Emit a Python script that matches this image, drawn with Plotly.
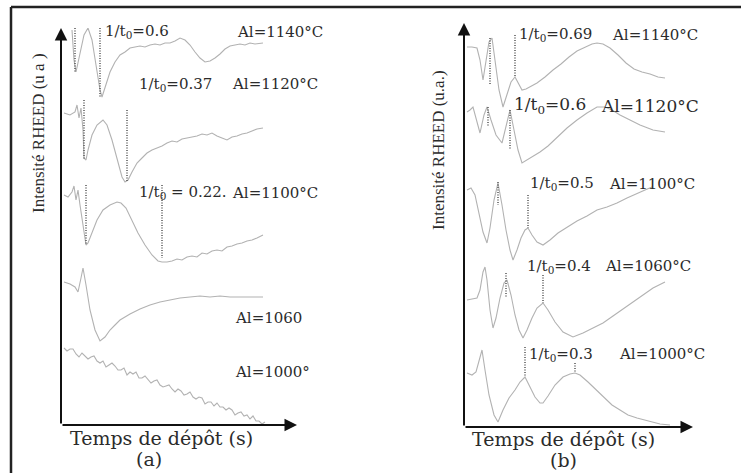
import plotly.graph_objects as go

W, H = 741, 473

# ---------------- Panel (a) : intensity (u.a.) vs deposition time (u.a.) ----------------
a1140_t = [11, 13, 15, 19, 23, 27, 31, 35, 39, 41, 44, 49, 54, 59, 64, 69, 74, 79, 84, 89, 94, 99,
           104, 109, 114, 119, 124, 129, 134, 139, 144, 149, 154, 159, 164, 169, 174, 179, 184, 189, 194, 202]
a1140_i = [395, 365, 353, 370, 390, 397, 385, 360, 335, 328, 337, 353, 363, 370, 373, 377, 378, 379, 378, 380, 381, 380,
           382, 382, 384, 387, 385, 380, 373, 367, 363, 364, 367, 371, 376, 379, 380, 381, 380, 382, 381, 382]

a1120_t = [3, 9, 14, 16, 18, 20, 22, 23, 25, 27, 31, 36, 42, 46, 51, 56, 61, 64, 67, 71, 76, 81, 86, 91, 96,
           101, 106, 111, 116, 121, 126, 131, 136, 141, 146, 151, 156, 161, 166, 171, 176, 181, 186, 191, 196, 202]
a1120_i = [312, 310, 313, 320, 307, 317, 295, 267, 265, 275, 290, 300, 305, 300, 285, 265, 248, 243, 245, 253, 262,
           267, 272, 275, 277, 279, 282, 284, 283, 286, 287, 288, 289, 291, 290, 292, 289, 287, 285, 288, 289, 291,
           292, 294, 296, 297]

a1100_t = [3, 7, 11, 13, 15, 17, 19, 22, 25, 27, 31, 36, 42, 49, 56, 60, 65, 71, 77, 84, 91, 97, 101, 106,
           111, 116, 121, 126, 131, 136, 141, 146, 151, 156, 161, 166, 171, 176, 181, 186, 191, 196, 202]
a1100_i = [230, 228, 233, 239, 225, 235, 220, 200, 180, 182, 193, 205, 215, 220, 223, 222, 217, 205, 192, 180,
           170, 164, 163, 163, 164, 166, 165, 168, 169, 168, 172, 171, 174, 175, 174, 178, 179, 181, 182, 184,
           185, 187, 190]

a1060_t = [3, 9, 14, 17, 20, 22, 25, 29, 34, 39, 44, 49, 54, 59, 69, 79, 89, 99, 109, 119, 129, 139, 149,
           159, 169, 184, 202]
a1060_i = [143, 141, 138, 133, 147, 157, 140, 115, 95, 84, 88, 95, 100, 105, 111, 116, 120, 123, 125, 127,
           128, 129, 128, 129, 128, 128, 128]

a1000_t = [3, 6, 9, 12, 15, 18, 21, 24, 27, 30, 33, 36, 39, 42, 45, 48, 51, 54, 57, 60, 63, 66, 69, 72,
           75, 78, 81, 84, 87, 90, 93, 96, 99, 102, 105, 108, 111, 114, 117, 120, 123, 126, 129, 132, 135,
           138, 141, 144, 147, 150, 153, 156, 159, 162, 165, 168, 171, 174, 177, 180, 183, 186, 189, 192,
           195, 198, 201, 204]
a1000_i = [77, 74, 76, 76, 71, 68, 72, 69, 66, 68, 69, 64, 62, 64, 58, 60, 62, 59, 55, 55, 57, 50, 53, 51,
           53, 47, 47, 49, 46, 42, 44, 45, 40, 38, 39, 40, 36, 33, 36, 34, 30, 31, 33, 28, 26, 28, 27, 21,
           23, 23, 19, 22, 18, 18, 15, 17, 15, 10, 12, 13, 9, 10, 6, 9, 4, 4, 1, 3]

# period markers (dotted verticals): time, upper and lower intensity
a_mark_t = [14, 39, 23, 66, 25, 101]
a_mark_hi = [397, 397, 325, 315, 240, 240]
a_mark_lo = [352, 328, 265, 243, 180, 167]

# ---------------- Panel (b) ----------------
b1140_t = [3, 8, 13, 16, 19, 22, 25, 28, 31, 35, 39, 43, 47, 51, 54, 58, 62, 66, 73, 81, 89, 97, 105, 113,
           121, 128, 133, 139, 146, 154, 162, 170, 178, 186, 194, 201]
b1140_i = [380, 380, 379, 367, 347, 367, 385, 389, 367, 337, 320, 332, 345, 350, 344, 337, 338, 340, 344, 350,
           357, 363, 370, 376, 380, 383, 384, 383, 379, 372, 364, 358, 355, 353, 350, 349]

b1120_t = [3, 6, 9, 12, 16, 20, 23, 27, 32, 38, 42, 46, 50, 54, 58, 63, 69, 76, 84, 93, 103, 113, 123, 133,
           141, 148, 156, 166, 176, 189, 201]
b1120_i = [315, 317, 320, 309, 294, 312, 320, 307, 292, 284, 302, 317, 297, 277, 264, 267, 271, 275, 281, 290,
           299, 307, 314, 320, 320, 317, 312, 307, 302, 297, 295]

b1100_t = [3, 7, 11, 15, 19, 23, 26, 30, 34, 38, 42, 46, 49, 53, 57, 61, 64, 68, 73, 79, 86, 94, 103, 113,
           123, 133, 143, 153, 163, 173, 181, 188]
b1100_i = [237, 239, 232, 215, 195, 184, 199, 227, 244, 222, 197, 177, 167, 177, 189, 197, 199, 192, 185, 182,
           187, 194, 200, 206, 211, 217, 220, 224, 229, 233, 237, 240]

b1060_t = [3, 8, 13, 16, 19, 21, 23, 26, 29, 32, 36, 40, 43, 47, 51, 55, 59, 63, 68, 73, 79, 84, 91, 99,
           109, 119, 129, 139, 149, 159, 169, 179, 189, 201]
b1060_i = [127, 128, 129, 137, 155, 160, 147, 117, 99, 109, 129, 144, 147, 132, 112, 97, 89, 97, 109, 119,
           124, 117, 105, 95, 90, 94, 99, 104, 111, 118, 125, 132, 139, 145]

b1000_t = [3, 8, 12, 15, 18, 21, 25, 30, 34, 39, 45, 51, 56, 61, 66, 71, 76, 79, 84, 91, 99, 106, 111, 116,
           124, 132, 139, 148, 156, 164, 173, 181, 186, 196, 206]
b1000_i = [54, 52, 55, 67, 77, 57, 32, 12, 5, 17, 29, 37, 45, 50, 40, 30, 24, 24, 31, 42, 50, 53, 54, 52,
           45, 37, 30, 22, 17, 12, 9, 7, 5, 3, 2]

b_mark_t = [26, 51, 24, 46, 34, 64, 42, 79, 61, 111]
b_mark_hi = [389, 392, 320, 317, 245, 232, 154, 152, 80, 64]
b_mark_lo = [342, 350, 300, 277, 222, 199, 130, 124, 50, 54]

# labels
a_freq = ["1/t<sub>0</sub>=0.6", "1/t<sub>0</sub>=0.37", "1/t<sub>0</sub> = 0.22."]
a_temp = ["Al=1140°C", "Al=1120°C", "Al=1100°C", "Al=1060", "Al=1000°"]
b_freq = ["1/t<sub>0</sub>=0.69", "1/t<sub>0</sub>=0.6", "1/t<sub>0</sub>=0.5",
          "1/t<sub>0</sub>=0.4", "1/t<sub>0</sub>=0.3"]
b_temp = ["Al=1140°C", "Al=1120°C", "Al=1100°C", "Al=1060°C", "Al=1000°C"]

CURVE = "#b2b2b2"
MARK = "#555555"
INK = "#2b2b2b"
SERIF = "DejaVu Serif"

fig = go.Figure()


def curve(t, i, xa, ya):
    fig.add_trace(go.Scatter(x=t, y=i, mode="lines", xaxis=xa, yaxis=ya,
                             line=dict(color=CURVE, width=1.1), hoverinfo="skip"))


def markers(t, hi, lo, xa, ya):
    xs, ys = [], []
    for tt, h, l in zip(t, hi, lo):
        xs += [tt, tt, None]
        ys += [h, l, None]
    fig.add_trace(go.Scatter(x=xs, y=ys, mode="lines", xaxis=xa, yaxis=ya,
                             line=dict(color=MARK, width=1.5, dash="1px,1.5px"), hoverinfo="skip"))


for t, i in [(a1140_t, a1140_i), (a1120_t, a1120_i), (a1100_t, a1100_i),
             (a1060_t, a1060_i), (a1000_t, a1000_i)]:
    curve(t, i, "x", "y")
markers(a_mark_t, a_mark_hi, a_mark_lo, "x", "y")

for t, i in [(b1140_t, b1140_i), (b1120_t, b1120_i), (b1100_t, b1100_i),
             (b1060_t, b1060_i), (b1000_t, b1000_i)]:
    curve(t, i, "x2", "y2")
markers(b_mark_t, b_mark_hi, b_mark_lo, "x2", "y2")


def px(x):
    return x / W


def py(y):
    return 1 - y / H


ann = []


def text(s, x, y, size=15, anchor="left", angle=0, family=SERIF):
    ann.append(dict(text=s, x=px(x), y=py(y), xref="paper", yref="paper", showarrow=False,
                    xanchor=anchor, yanchor="middle", textangle=angle,
                    font=dict(family=family, size=size, color=INK)))


def arrow(xa, ya, x, y):
    ann.append(dict(text="", x=x, y=y, ax=0, ay=0, xref=xa, yref=ya, axref=xa, ayref=ya,
                    showarrow=True, arrowhead=2, arrowsize=1.25, arrowwidth=2, arrowcolor="#111"))


# axes with arrowheads
arrow("x", "y", 0, 397)
arrow("x", "y", 236, 0)
arrow("x2", "y2", 0, 404)
arrow("x2", "y2", 229, 0)

# panel (a) labels
for s, (x, y) in zip(a_freq, [(103, 32), (137, 84), (137, 193)]):
    text(s, x, y)
for s, (x, y) in zip(a_temp, [(235, 32), (230, 84), (230, 193), (233, 318), (233, 372)]):
    text(s, x, y)

# panel (b) labels
for k, (s, (x, y)) in enumerate(zip(b_freq, [(517, 35), (512, 106), (528, 184), (525, 266), (527, 354)])):
    text(s, x, y, size=17 if k == 1 else 15)
for k, (s, (x, y)) in enumerate(zip(b_temp, [(610, 35), (599, 106), (607, 184), (603, 266), (617, 354)])):
    text(s, x, y, size=17 if k == 1 else 15)

# axis titles
text("Intensité RHEED (u a )", 38, 133, size=17, anchor="center", angle=-90, family="Liberation Serif")
text("Intensité RHEED (u.a.)", 438, 150, size=17, anchor="center", angle=-90, family="Liberation Serif")
text("Temps de dépôt (s)", 161, 438, size=19, anchor="center")
text("(a)", 149, 459, size=19, anchor="center")
text("Temps de dépôt (s)", 563, 439, size=19, anchor="center")
text("(b)", 563, 460, size=19, anchor="center")

frame = dict(color="#222", width=2.5)
shapes = [
    dict(type="line", xref="paper", yref="paper", x0=px(11), y0=py(7), x1=1, y1=py(7), line=frame),
    dict(type="line", xref="paper", yref="paper", x0=px(11), y0=py(7), x1=px(11), y1=0, line=frame),
]

hidden = dict(visible=False, fixedrange=True)
fig.update_layout(
    width=W, height=H, margin=dict(l=0, r=0, t=0, b=0),
    paper_bgcolor="white", plot_bgcolor="rgba(0,0,0,0)", showlegend=False,
    xaxis=dict(domain=[px(61), px(297)], range=[0, 236], **hidden),
    yaxis=dict(domain=[py(425), py(28)], range=[0, 397], **hidden),
    xaxis2=dict(domain=[px(464), px(693)], range=[0, 229], anchor="y2", **hidden),
    yaxis2=dict(domain=[py(427), py(23)], range=[0, 404], anchor="x2", **hidden),
    annotations=ann, shapes=shapes,
)

fig.write_html("out.html")
